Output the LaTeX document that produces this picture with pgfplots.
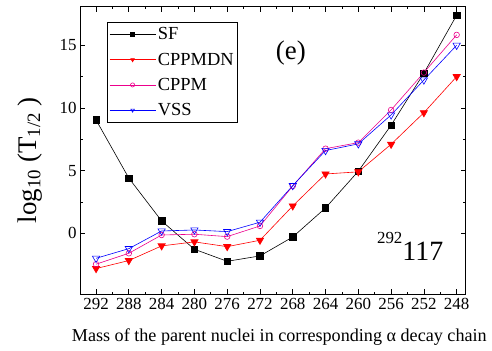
\documentclass[border=0pt]{standalone}
\usepackage{fontspec}
\setmainfont{Liberation Serif}
\usepackage{pgfplots}
\pgfplotsset{compat=1.18}
\begin{document}
\begin{tikzpicture}[x=1bp,y=1bp]
\path[use as bounding box] (0,0) rectangle (492,350);
\begin{axis}[
  at={(80bp,56bp)}, anchor=south west,
  scale only axis, width=385.5bp, height=287.3bp,
  xmin=-0.49, xmax=11.27, ymin=-4.85, ymax=18.08,
  xtick={0,1,2,3,4,5,6,7,8,9,10,11},
  xticklabels={292,288,284,280,276,272,268,264,260,256,252,248},
  minor x tick num=1,
  ytick={0,5,10,15}, minor y tick num=1,
  tick align=inside, major tick length=5bp, minor tick length=2.5bp,
  axis line style={line width=0.9bp},
  tick style={line width=0.7bp, black},
  /pgf/number format/assume math mode=true,
  tick label style={font=\fontsize{17}{17}\selectfont},
  xticklabel style={yshift=-1bp},
  xlabel={Mass of the parent nuclei in corresponding α decay chain},
  xlabel style={at={(axis description cs:0.517,-0.15)}, anchor=center, font=\fontsize{18.2}{18.2}\selectfont},
  ylabel={log\textsubscript{10} (T\textsubscript{1/2} )},
  ylabel style={at={(axis description cs:-0.13,0.466)}, anchor=center, rotate=0, font=\fontsize{27}{27}\selectfont},
  clip=false,
  legend style={at={(rel axis cs:0.070,0.947)}, anchor=north west, draw=black, line width=0.6bp,
    font=\fontsize{18.5}{18.5}\selectfont, row sep=7.5bp, inner xsep=2bp, inner ysep=3.5bp},
  legend cell align=left,
  legend image code/.code={\draw[mark repeat=2,mark phase=2,#1,mark size=2.1bp] plot coordinates {(0bp,0bp)(23bp,0bp)(46bp,0bp)};},
  every axis plot/.append style={line width=0.6bp},
]
\addplot[black, mark=square*, mark size=3.2bp, mark options={solid}] coordinates {
(0,9.04)(1,4.40)(2,0.98)(3,-1.28)(4,-2.24)(5,-1.81)(6,-0.30)(7,2.02)(8,4.95)(9,8.62)(10,12.77)(11,17.40)};
\addlegendentry{SF}
\addplot[red, mark=triangle*, mark size=4.2bp, mark options={rotate=180,fill=red}] coordinates {
(0,-2.82)(1,-2.18)(2,-1.01)(3,-0.69)(4,-1.07)(5,-0.56)(6,2.18)(7,4.73)(8,4.90)(9,7.10)(10,9.62)(11,12.50)};
\addlegendentry{CPPMDN}
\addplot[magenta, mark=o, mark size=2.8bp] coordinates {
(0,-2.47)(1,-1.60)(2,-0.14)(3,-0.08)(4,-0.27)(5,0.58)(6,3.77)(7,6.75)(8,7.23)(9,9.84)(10,12.82)(11,15.83)};
\addlegendentry{CPPM}
\addplot[blue, mark=triangle, mark size=4.2bp, mark options={rotate=180}] coordinates {
(0,-2.00)(1,-1.23)(2,0.18)(3,0.26)(4,0.13)(5,0.88)(6,3.80)(7,6.60)(8,7.13)(9,9.44)(10,12.23)(11,15.00)};
\addlegendentry{VSS}
\node[anchor=center, font=\fontsize{27}{27}\selectfont] at (rel axis cs:0.547,0.839) {(e)};
\node[anchor=base west, inner sep=0pt] at (rel axis cs:0.770,0.116) {\fontsize{17}{17}\selectfont\raisebox{17bp}{292}\fontsize{28}{28}\selectfont 117};
\end{axis}
\end{tikzpicture}
\end{document}
